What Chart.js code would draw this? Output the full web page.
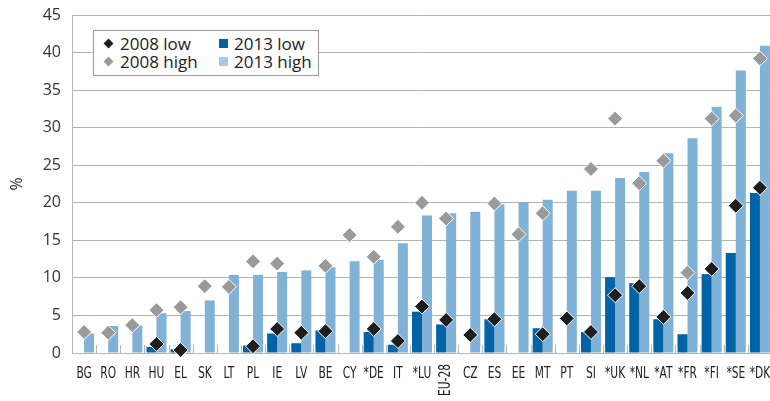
<!DOCTYPE html>
<html>
<head>
<meta charset="utf-8">
<script src="https://cdn.jsdelivr.net/npm/chart.js@4.4.1/dist/chart.umd.min.js"></script>
<style>
  body { margin: 0; overflow: hidden; background: #fff; }
  #wrap { position: relative; width: 772px; height: 401px; }
  #legend {
    position: absolute; left: 93px; top: 30px; width: 224px; height: 44px;
    border: 1px solid #9a9a9a; background: #fff;
    font-family: 'Open Sans', sans-serif; font-size: 17px; color: #222;
  }
  .item { position: absolute; line-height: 20px; white-space: nowrap; }
  .mk { display: inline-block; vertical-align: middle; margin-right: 6px; position: relative; top: -2px; }
  .dia { width: 7px; height: 7px; transform: rotate(45deg); margin-left: 2px; margin-right: 8px; }
  .sq { width: 9px; height: 9px; }
</style>
</head>
<body>
<div id="wrap">
  <canvas id="chart" width="772" height="401"></canvas>
  <div id="legend">
    <div class="item" style="left:9px;top:3px"><span class="mk dia" style="background:#1e1e1e"></span>2008 low</div>
    <div class="item" style="left:9px;top:21px"><span class="mk dia" style="background:#9a9a9a"></span>2008 high</div>
    <div class="item" style="left:125px;top:3px"><span class="mk sq" style="background:#0063a6"></span>2013 low</div>
    <div class="item" style="left:125px;top:21px"><span class="mk sq" style="background:#a9cae6"></span>2013 high</div>
  </div>
</div>
<script>
// data
const categories = ['BG', 'RO', 'HR', 'HU', 'EL', 'SK', 'LT', 'PL', 'IE', 'LV', 'BE', 'CY', '*DE', 'IT', '*LU', 'EU-28', 'CZ', 'ES', 'EE', 'MT', 'PT', 'SI', '*UK', '*NL', '*AT', '*FR', '*FI', '*SE', '*DK'];
const low2008 = [null, null, null, 1.2, 0.4, null, null, 0.9, 3.2, 2.7, 2.9, null, 3.2, 1.6, 6.2, 4.4, 2.4, 4.5, null, 2.5, 4.6, 2.8, 7.7, 8.9, 4.8, 8.0, 11.2, 19.6, 22.0];
const high2008 = [2.8, 2.7, 3.7, 5.7, 6.1, 8.9, 8.8, 12.2, 11.9, null, 11.6, 15.7, 12.8, 16.8, 20.0, 17.9, null, 19.9, 15.8, 18.6, null, 24.5, 31.2, 22.6, 25.6, 10.7, 31.2, 31.6, 39.2];
const low2013 = [null, null, null, 0.8, 0.5, null, null, 1.0, 2.6, 1.3, 3.0, null, 2.8, 1.1, 5.5, 3.8, null, 4.5, null, 3.3, null, 2.8, 10.1, 9.3, 4.5, 2.5, 10.5, 13.3, 21.3];
const high2013 = [2.6, 3.6, 3.7, 5.3, 5.6, 7.0, 10.4, 10.4, 10.8, 11.0, 11.4, 12.2, 12.4, 14.6, 18.3, 18.6, 18.8, 19.8, 20.1, 20.4, 21.6, 21.6, 23.3, 24.1, 26.6, 28.6, 32.8, 37.6, 40.9];
const yTicks = [0, 5, 10, 15, 20, 25, 30, 35, 40, 45];

const rotatedLabel = 'EU-28';
const gridColor = '#b4b4b4';
const labelFont = "16px 'DejaVu Sans Condensed', 'DejaVu Sans', sans-serif";
const squeeze = 0.74; // the source uses a very narrow face

// small marks between categories + narrow category labels (EU-28 upright)
const axisExtras = {
    id: 'axisExtras',
    beforeDatasetsDraw(chart) {
        const x = chart.scales.x;
        const c = chart.ctx;
        const bottom = chart.chartArea.bottom;
        c.save();
        c.strokeStyle = gridColor;
        c.lineWidth = 1;
        for (let i = 1; i < categories.length; i++) {
            const px = Math.round(x.getPixelForValue(i - 0.5)) + 0.5;
            c.beginPath();
            c.moveTo(px, bottom);
            c.lineTo(px, bottom - 8);
            c.stroke();
        }
        c.restore();
    },
    afterDraw(chart) {
        const x = chart.scales.x;
        const c = chart.ctx;
        const bottom = chart.chartArea.bottom;
        c.save();
        c.font = labelFont;
        c.fillStyle = '#222';
        categories.forEach((cat, i) => {
            const px = x.getPixelForValue(i);
            c.save();
            if (cat === rotatedLabel) {
                c.translate(px, bottom + 11);
                c.rotate(-Math.PI / 2);
                c.scale(squeeze, 1);
                c.textAlign = 'right';
                c.textBaseline = 'middle';
            } else {
                c.translate(px, bottom + 21);
                c.scale(squeeze, 1);
                c.textAlign = 'center';
                c.textBaseline = 'middle';
            }
            c.fillText(cat, 0, 0);
            c.restore();
        });
        c.restore();
    }
};

const ctx = document.getElementById('chart').getContext('2d');
new Chart(ctx, {
    type: 'bar',
    data: {
        labels: categories,
        datasets: [
            {
                type: 'line',
                label: '2008 low',
                data: low2008,
                showLine: false,
                pointStyle: 'rectRot',
                pointRadius: 7.5,
                pointBackgroundColor: '#1e1e1e',
                pointBorderColor: '#ffffff',
                pointBorderWidth: 1,
                clip: false,
                order: 0
            },
            {
                type: 'line',
                label: '2008 high',
                data: high2008,
                showLine: false,
                pointStyle: 'rectRot',
                pointRadius: 7.5,
                pointBackgroundColor: '#9a9a9a',
                pointBorderColor: '#ffffff',
                pointBorderWidth: 1,
                clip: false,
                order: 1
            },
            {
                label: '2013 low',
                data: low2013,
                backgroundColor: '#0063a6',
                categoryPercentage: 0.83,
                barPercentage: 1.0,
                order: 2
            },
            {
                label: '2013 high',
                data: high2013,
                backgroundColor: '#80b2d8',
                categoryPercentage: 0.83,
                barPercentage: 1.0,
                order: 2
            }
        ]
    },
    options: {
        responsive: false,
        animation: false,
        layout: { autoPadding: false, padding: { top: 15, right: 0, left: 0, bottom: 0 } },
        plugins: {
            legend: { display: false },
            tooltip: { enabled: false }
        },
        scales: {
            x: {
                grid: { display: false },
                border: { display: true, color: gridColor },
                ticks: { display: false },
                afterFit: (s) => { s.height = 48; }
            },
            y: {
                min: 0,
                max: 45,
                afterBuildTicks: (s) => { s.ticks = yTicks.map(v => ({ value: v })); },
                grid: { color: gridColor, drawTicks: false },
                border: { display: true, color: gridColor },
                ticks: {
                    padding: 11,
                    color: '#333',
                    font: { family: "'Open Sans', sans-serif", size: 16 }
                },
                title: {
                    display: true,
                    text: '%',
                    color: '#333',
                    padding: { top: 8, bottom: 0 },
                    font: { family: "'Open Sans', sans-serif", size: 16 }
                },
                afterFit: (s) => {
                    s.width = 72;
                    s.paddingTop = 0;
                    s.paddingBottom = 0;
                }
            }
        }
    },
    plugins: [axisExtras]
});
</script>
</body>
</html>
